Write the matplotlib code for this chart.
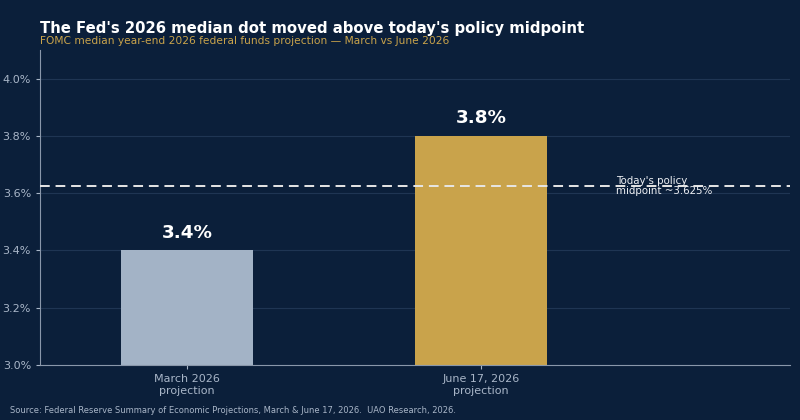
import matplotlib
matplotlib.use("Agg")
import matplotlib.pyplot as plt
from matplotlib.ticker import FuncFormatter

# data
labels = ["March 2026\nprojection", "June 17, 2026\nprojection"]
values = [3.4, 3.8]
value_text = ["3.4%", "3.8%"]
bar_colors = ["#a3b3c6", "#c9a34b"]
policy_mid = 3.625

BG = "#0b1f3a"
GRID = "#1f3553"
TICK = "#a9b6c8"

fig = plt.figure(figsize=(8, 4.2), dpi=100, facecolor=BG)
ax = fig.add_axes([0.05, 0.131, 0.9375, 0.75], facecolor=BG)

x = list(range(len(values)))
ax.bar(x, values, width=0.45, color=bar_colors, zorder=2)
for xi, v, t in zip(x, values, value_text):
    ax.text(xi, v + 0.03, t, ha="center", va="bottom", color="white",
            fontsize=13.2, fontweight="bold")

ax.axhline(policy_mid, color="#e6e6e6", lw=1.4, ls=(0, (5, 3)), zorder=3)
ax.text(1.46, policy_mid, "Today's policy\nmidpoint ~3.625%", color="#eef0f4",
        fontsize=7.4, va="center", ha="left", linespacing=0.95)

ax.set_ylim(3.0, 4.1)
ax.set_xlim(-0.5, 2.05)
ax.set_yticks([3.0, 3.2, 3.4, 3.6, 3.8, 4.0])
ax.yaxis.set_major_formatter(FuncFormatter(lambda v, p: f"{v:.1f}%"))
ax.set_xticks(x)
ax.set_xticklabels(labels)
ax.tick_params(axis="y", colors=TICK, labelsize=8, length=3)
ax.tick_params(axis="x", colors=TICK, labelsize=8, length=3)
ax.grid(axis="y", color=GRID, lw=0.8, zorder=0)
for s in ["top", "right"]:
    ax.spines[s].set_visible(False)
for s in ["left", "bottom"]:
    ax.spines[s].set_color("#8a97aa")

fig.text(0.05, 0.921, "The Fed's 2026 median dot moved above today's policy midpoint",
         color="white", fontsize=10.7, fontweight="bold", va="baseline")
fig.text(0.05, 0.896, "FOMC median year-end 2026 federal funds projection \u2014 March vs June 2026",
         color="#c9a34b", fontsize=7.7, va="baseline")
fig.text(0.012, 0.022, "Source: Federal Reserve Summary of Economic Projections, March & June 17, 2026.  UAO Research, 2026.",
         color="#a9b6c8", fontsize=6.0, va="center")

fig.savefig("out.png", dpi=100, facecolor=BG)
